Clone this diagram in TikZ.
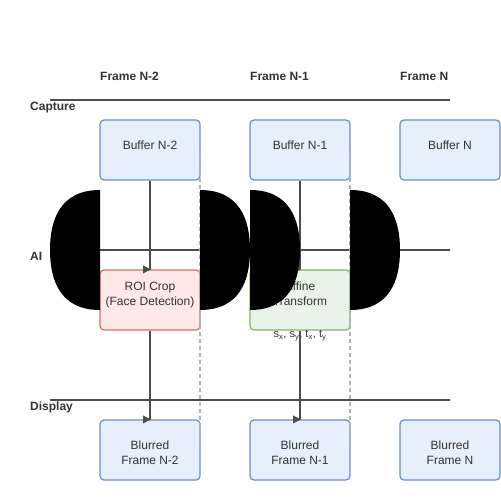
\documentclass[tikz,border=0pt]{standalone}
\usepackage{fontspec}
\setmainfont{Liberation Sans}
\usetikzlibrary{positioning}
\definecolor{ink}{HTML}{333333}
\definecolor{lane}{HTML}{4D4D4D}
\definecolor{bufblue}{HTML}{E6EFFC}
\definecolor{bufline}{HTML}{6C8EBF}
\definecolor{roired}{HTML}{FFE8E8}
\definecolor{roiline}{HTML}{D07070}
\definecolor{affgreen}{HTML}{EAF3EA}
\definecolor{affline}{HTML}{82B366}
\definecolor{sepgray}{HTML}{B3B3B3}
\tikzset{
  box/.style={draw, rounded corners=4bp, line width=1.2bp, minimum width=100bp,
    minimum height=60bp, inner sep=0pt, align=center, text=ink,
    font=\fontsize{12bp}{15bp}\selectfont},
  buf/.style={box, draw=bufline, fill=bufblue, text height=6bp, text depth=6bp},
  blur/.style={box, draw=bufline, fill=bufblue, text height=29.4bp, text depth=0bp},
  roi/.style={box, draw=roiline, fill=roired, text height=10bp, text depth=0bp},
  aff/.style={box, draw=affline, fill=affgreen, text height=10bp, text depth=0bp},
  lanetext/.style={anchor=west, inner sep=0pt, text=ink,
    font=\fontsize{12bp}{15bp}\selectfont\bfseries},
  laneline/.style={draw=lane, line width=2bp},
  sep/.style={draw=sepgray, line width=1.2bp, dash pattern=on 4bp off 3bp}
}
\begin{document}
\begin{tikzpicture}[x=1bp, y=-1bp]
\useasboundingbox (0,0) rectangle (500,500);
% Column heads
\node[lanetext] (fa) at (100,76) {Frame N-2};
\node[lanetext] (fb) at (250,76) {Frame N-1};
\node[lanetext] (fc) at (400,76) {Frame N};
% Lanes
\coordinate (capL) at (50,100);  \coordinate (capR) at (450,100);
\coordinate (aiL) at (50,250);   \coordinate (aiR) at (450,250);
\coordinate (disL) at (50,400);  \coordinate (disR) at (450,400);
\draw[laneline] (capL) -- (capR);
\draw[laneline] (aiL) -- (aiR);
\draw[laneline] (disL) -- (disR);
\node[lanetext] (capture) at (30,107.5) {Capture};
\node[lanetext] (ai) at (30,256) {AI};
\node[lanetext] (display) at (30,407.5) {Display};
% Boxes
\node[buf] (bufA) at (150,150) {Buffer N-2};
\node[buf] (bufB) at (300,150) {Buffer N-1};
\node[buf] (bufC) at (450,150) {Buffer N};
\node[roi] (crop) at (150,300) {ROI Crop\\(Face Detection)};
\node[aff] (affine) at (300,300) {Affine\\Transform};
\node[blur] (blurA) at (150,450) {Blurred\\Frame N-2};
\node[blur] (blurB) at (300,450) {Blurred\\Frame N-1};
\node[blur] (blurC) at (450,450) {Blurred\\Frame N};
\node[text=ink, font=\fontsize{11bp}{13bp}\selectfont] (params) at (300,336)
  {s\textsubscript{x}, s\textsubscript{y}, t\textsubscript{x}, t\textsubscript{y}};
% Connectors
\draw[lane, line width=2bp] (bufA.south) -- (crop.north);
\draw[lane, line width=2bp] (crop.south) -- (blurA.north);
\draw[lane, line width=2bp] (bufB.south) -- (affine.north);
\draw[lane, line width=2bp] (affine.south) -- (blurB.north);
\fill[lane] (crop.north) ++(-7,-4) -- ++(0,8) -- ++(8,-4) -- cycle;
\fill[lane] (blurA.north) ++(-7,-4) -- ++(0,8) -- ++(8,-4) -- cycle;
\fill[lane] (affine.north) ++(-7,-4) -- ++(0,8) -- ++(8,-4) -- cycle;
\fill[lane] (blurB.north) ++(-7,-4) -- ++(0,8) -- ++(8,-4) -- cycle;
% Frame separators
\coordinate (sepAt) at (200,150); \coordinate (sepAb) at (200,450);
\coordinate (sepBt) at (350,150); \coordinate (sepBb) at (350,450);
\draw[sep] (sepAt) -- (sepAb);
\draw[sep] (sepBt) -- (sepBb);
% Black blobs
\fill[black] (100,190) .. controls (60,190) and (50,220) .. (50,250)
  .. controls (50,280) and (60,310) .. (100,310) -- cycle;
\foreach \x in {200,250,350}
  \fill[black] (\x,190) .. controls (\x+40,190) and (\x+50,220) .. (\x+50,250)
    .. controls (\x+50,280) and (\x+40,310) .. (\x,310) -- cycle;
\end{tikzpicture}
\end{document}
